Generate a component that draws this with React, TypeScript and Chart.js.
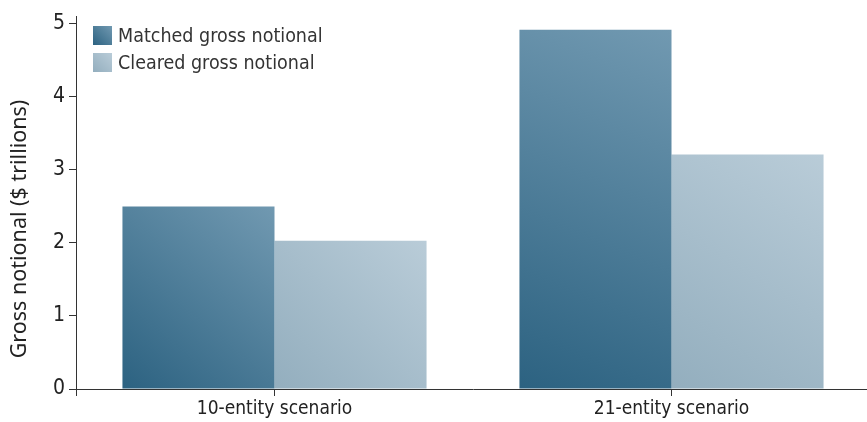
import React, { useEffect, useRef } from "react";
import { Chart, registerables } from "chart.js";

Chart.register(...registerables);

const categories = ["10-entity scenario", "21-entity scenario"];
const matchedValues = [2.5, 4.92];
const clearedValues = [2.03, 3.21];
const seriesLabels = ["Matched gross notional", "Cleared gross notional"];
const yTickValues = [0, 1, 2, 3, 4, 5];
const yTitle = "Gross notional ($ trillions)";

const CAT_PCT = 0.766;
const COND = "'Liberation Sans Narrow', 'DejaVu Sans Condensed', 'Roboto Condensed', 'Arial Narrow', sans-serif";

const gradStops = [
  ["#2c6281", "#7199b1"],
  ["#93aebe", "#b9ccd8"],
];

function barGradient(ctx: any) {
  const chart = ctx.chart;
  const xs = chart.scales?.x;
  const ys = chart.scales?.y;
  const di = ctx.datasetIndex;
  const [c0, c1] = gradStops[di];
  if (!xs || !ys || ctx.dataIndex === undefined || ctx.raw === undefined) return c0;
  const cx = xs.getPixelForValue(ctx.dataIndex);
  const catW = xs.width / categories.length;
  const half = (catW * CAT_PCT) / 2;
  const left = di === 0 ? cx - half : cx;
  const right = di === 0 ? cx : cx + half;
  const top = ys.getPixelForValue(ctx.raw);
  const bottom = ys.getPixelForValue(0);
  if (!isFinite(left) || !isFinite(top)) return c0;
  const g = chart.ctx.createLinearGradient(left, bottom, right, top);
  g.addColorStop(0, c0);
  g.addColorStop(1, c1);
  return g;
}

const customPlugin = {
  id: "custom",
  afterDraw(chart: any) {
    const ctx = chart.ctx;
    const area = chart.chartArea;
    ctx.save();
    ctx.strokeStyle = "#333";
    ctx.lineWidth = 1;
    ctx.beginPath();
    ctx.moveTo(area.left + 0.5, area.bottom);
    ctx.lineTo(area.left + 0.5, area.bottom + 7);
    ctx.stroke();
    const boxX = 93;
    const boxS = 19;
    const ys0 = [26, 53];
    ctx.font = `19.5px ${COND}`;
    ctx.textBaseline = "middle";
    seriesLabels.forEach((lab, i) => {
      const y = ys0[i];
      const g = ctx.createLinearGradient(boxX, y + boxS, boxX + boxS, y);
      g.addColorStop(0, gradStops[i][0]);
      g.addColorStop(1, gradStops[i][1]);
      ctx.fillStyle = g;
      ctx.fillRect(boxX, y, boxS, boxS);
      ctx.fillStyle = "#333";
      ctx.fillText(lab, boxX + boxS + 6, y + boxS / 2 + 1);
    });
    ctx.translate(20, 229);
    ctx.rotate(-Math.PI / 2);
    ctx.textAlign = "center";
    ctx.textBaseline = "middle";
    ctx.font = "21.5px 'Noto Sans', 'Open Sans', sans-serif";
    ctx.fillStyle = "#222";
    ctx.fillText(yTitle, 0, 0);
    ctx.restore();
  },
};

export default function App() {
  const ref = useRef<HTMLCanvasElement | null>(null);
  useEffect(() => {
    document.body.style.margin = "0";
    document.body.style.overflow = "hidden";
    if (!ref.current) return;
    const chart = new Chart(ref.current, {
      type: "bar",
      data: {
        labels: categories,
        datasets: [
          {
            label: seriesLabels[0],
            data: matchedValues,
            backgroundColor: barGradient as any,
            categoryPercentage: CAT_PCT,
            barPercentage: 1,
          },
          {
            label: seriesLabels[1],
            data: clearedValues,
            backgroundColor: barGradient as any,
            categoryPercentage: CAT_PCT,
            barPercentage: 1,
          },
        ],
      },
      options: {
        animation: false,
        responsive: false,
        devicePixelRatio: 1,
        layout: { padding: { top: 14, left: 0, right: 0, bottom: 0 } },
        plugins: {
          legend: { display: false },
          tooltip: { enabled: false },
        },
        scales: {
          x: {
            afterFit: (s: any) => {
              s.height = 33;
            },
            grid: {
              display: true,
              drawOnChartArea: false,
              offset: false,
              tickLength: 7,
              color: "#333",
            },
            border: { display: true, color: "#333", width: 1 },
            ticks: {
              color: "#222",
              padding: 2,
              font: { family: COND, size: 19 },
            },
          },
          y: {
            min: 0,
            max: 5.1,
            afterFit: (s: any) => {
              s.width = 76;
            },
            afterBuildTicks: (s: any) => {
              s.ticks = yTickValues.map((v) => ({ value: v }));
            },
            grid: {
              display: true,
              drawOnChartArea: false,
              tickLength: 7,
              color: "#333",
            },
            border: { display: true, color: "#333", width: 1 },
            ticks: {
              color: "#222",
              padding: 4,
              font: { family: COND, size: 21 },
            },
          },
        },
      },
      plugins: [customPlugin],
    });
    return () => chart.destroy();
  }, []);
  return (
    <div style={{ position: "absolute", left: 0, top: 0, width: 870, height: 422, overflow: "hidden" }}>
      <canvas ref={ref} width={870} height={422} style={{ width: 870, height: 422, display: "block" }} />
    </div>
  );
}
